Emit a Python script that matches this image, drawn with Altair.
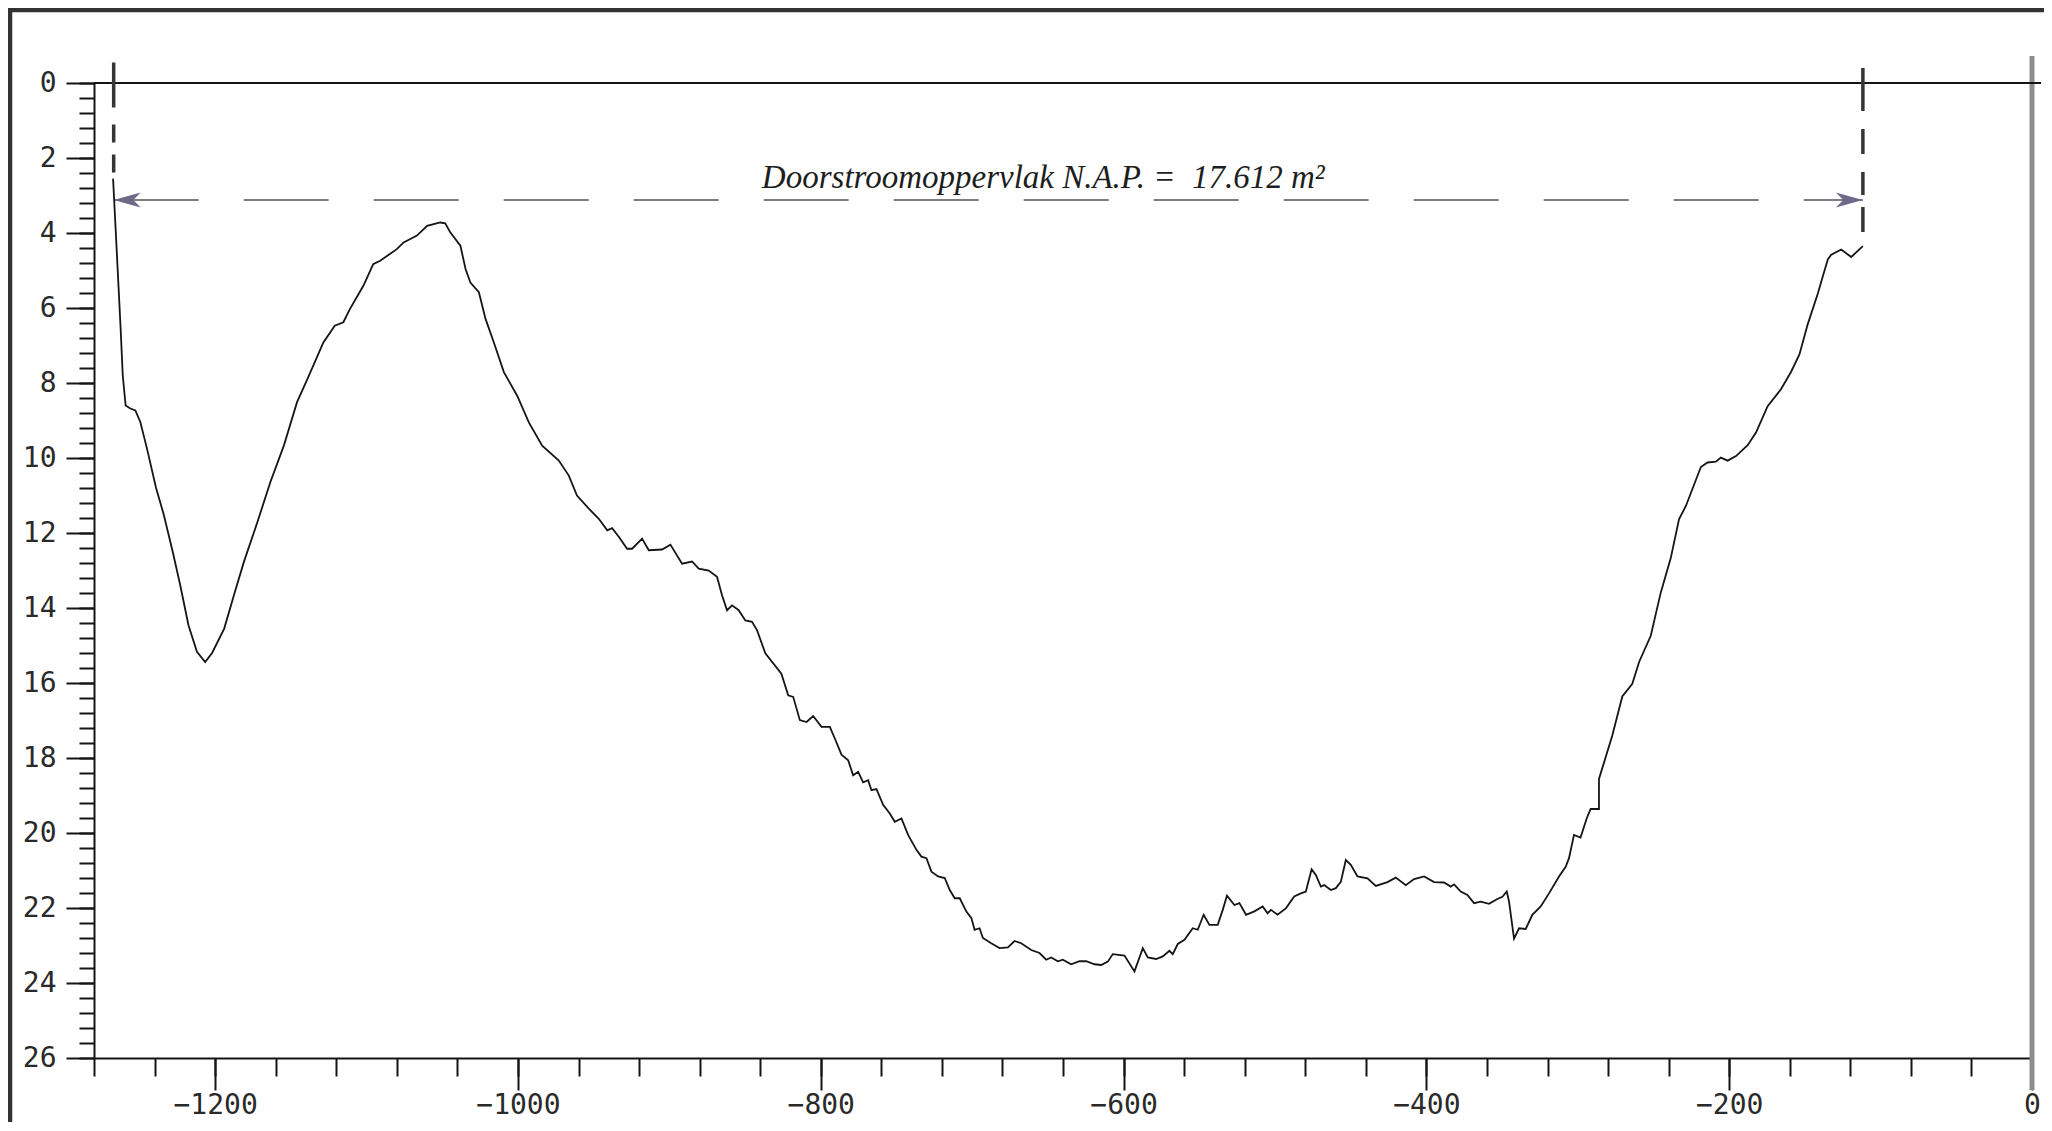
import altair as alt
import pandas as pd

# ---------------- data ----------------
afstand = [
    -1267.4, -1265.7, -1264.6, -1263.5, -1262.4, -1261.0, -1259.1, -1256.0, -1252.7, -1249.4,
    -1245.0, -1239.0, -1234.0, -1228.0, -1223.0, -1217.6, -1212.0, -1206.6, -1202.0, -1194.0,
    -1187.6, -1181.0, -1172.0, -1163.5, -1154.6, -1145.9, -1139.0, -1128.5, -1121.0, -1115.3,
    -1111.0, -1102.0, -1095.6, -1091.0, -1084.6, -1080.0, -1075.5, -1066.7, -1060.0, -1051.3,
    -1048.0, -1044.6, -1038.0, -1034.6, -1031.4, -1025.8, -1021.4, -1015.9, -1009.3, -1000.5,
    -992.8, -984.0, -973.0, -966.4, -961.0, -953.2, -946.6, -941.0, -937.8, -933.4,
    -927.9, -924.6, -918.0, -913.6, -904.8, -899.3, -891.6, -885.0, -880.6, -874.0,
    -868.5, -865.2, -861.9, -858.6, -854.2, -849.8, -845.4, -842.1, -836.6, -826.0,
    -821.5, -818.2, -813.8, -809.4, -805.0, -799.5, -794.0, -790.7, -786.3, -781.9,
    -778.6, -775.3, -772.0, -768.7, -766.5, -763.2, -758.8, -754.4, -751.1, -746.7,
    -742.3, -736.8, -733.5, -730.2, -726.9, -722.5, -718.1, -714.8, -711.5, -708.2,
    -703.9, -700.5, -698.4, -695.1, -692.9, -687.4, -681.9, -676.4, -672.0, -667.6,
    -661.0, -655.5, -651.1, -647.8, -643.4, -640.1, -634.6, -629.1, -624.7, -619.2,
    -614.8, -610.4, -607.1, -599.4, -592.8, -587.3, -584.0, -578.5, -574.1, -569.7,
    -567.5, -564.2, -559.8, -554.3, -551.0, -547.1, -543.3, -537.8, -534.5, -531.7,
    -526.8, -523.5, -519.1, -513.6, -508.1, -504.9, -502.7, -498.3, -492.8, -487.3,
    -482.9, -479.6, -475.8, -473.0, -469.7, -467.5, -463.1, -459.8, -456.5, -453.2,
    -449.9, -445.5, -438.9, -433.4, -425.7, -420.2, -413.6, -408.1, -401.5, -394.9,
    -388.3, -383.9, -381.7, -377.3, -372.9, -368.5, -364.1, -358.6, -353.1, -349.8,
    -346.9, -345.4, -342.1, -338.8, -334.4, -330.0, -324.5, -319.0, -312.4, -308.0,
    -305.8, -302.5, -298.2, -294.0, -291.5, -286.0, -286.0, -283.8, -277.2, -270.6,
    -264.0, -259.5, -251.8, -245.2, -238.6, -233.1, -228.6, -218.7, -214.3, -208.8,
    -205.5, -201.0, -195.5, -187.8, -182.3, -174.6, -165.7, -159.1, -153.6, -148.1,
    -141.5, -138.2, -134.8, -132.6, -126.0, -119.4, -111.7,
]
diepte = [
    2.55, 3.90, 4.79, 5.67, 6.56, 7.80, 8.60, 8.68, 8.73, 9.04,
    9.75, 10.80, 11.50, 12.50, 13.40, 14.46, 15.17, 15.44, 15.20, 14.55,
    13.66, 12.77, 11.70, 10.64, 9.67, 8.51, 7.89, 6.92, 6.47, 6.38,
    6.03, 5.40, 4.83, 4.74, 4.56, 4.43, 4.25, 4.07, 3.81, 3.72,
    3.74, 3.99, 4.34, 4.96, 5.32, 5.58, 6.29, 6.92, 7.71, 8.34,
    9.05, 9.67, 10.07, 10.47, 11.00, 11.35, 11.62, 11.93, 11.87, 12.10,
    12.42, 12.42, 12.15, 12.46, 12.44, 12.31, 12.82, 12.76, 12.95, 13.00,
    13.17, 13.66, 14.06, 13.93, 14.06, 14.33, 14.37, 14.59, 15.21, 15.75,
    16.33, 16.37, 16.99, 17.04, 16.88, 17.17, 17.17, 17.48, 17.91, 18.06,
    18.46, 18.37, 18.65, 18.59, 18.86, 18.83, 19.25, 19.48, 19.70, 19.61,
    20.05, 20.45, 20.63, 20.67, 21.03, 21.16, 21.20, 21.52, 21.74, 21.74,
    22.09, 22.27, 22.58, 22.54, 22.80, 22.94, 23.07, 23.05, 22.88, 22.94,
    23.12, 23.20, 23.38, 23.32, 23.42, 23.38, 23.50, 23.42, 23.42, 23.50,
    23.52, 23.43, 23.23, 23.27, 23.69, 23.07, 23.32, 23.36, 23.29, 23.14,
    23.23, 22.96, 22.85, 22.54, 22.58, 22.18, 22.45, 22.45, 22.05, 21.67,
    21.92, 21.87, 22.18, 22.09, 21.96, 22.14, 22.05, 22.18, 22.01, 21.69,
    21.61, 21.56, 20.97, 21.12, 21.43, 21.39, 21.52, 21.47, 21.30, 20.72,
    20.85, 21.16, 21.21, 21.41, 21.31, 21.19, 21.39, 21.23, 21.16, 21.31,
    21.32, 21.43, 21.37, 21.56, 21.65, 21.87, 21.83, 21.89, 21.76, 21.70,
    21.56, 21.83, 22.82, 22.54, 22.56, 22.18, 21.96, 21.61, 21.16, 20.90,
    20.67, 20.05, 20.12, 19.60, 19.36, 19.36, 18.56, 18.27, 17.40, 16.36,
    16.02, 15.44, 14.74, 13.59, 12.67, 11.63, 11.28, 10.24, 10.12, 10.10,
    9.99, 10.07, 9.95, 9.66, 9.32, 8.62, 8.16, 7.70, 7.24, 6.43,
    5.62, 5.16, 4.70, 4.58, 4.44, 4.64, 4.35,
]

x_tick_values = [-1200, -1000, -800, -600, -400, -200, 0]
y_tick_values = [0, 2, 4, 6, 8, 10, 12, 14, 16, 18, 20, 22, 24, 26]
x_minor_values = list(range(-1280, 1, 40))
y_minor_values = [round(i * 0.4, 1) for i in range(66)]

x_linker, x_rechter = -1267.0, -111.7       # oevergrenzen (dashed verticals)
nap_niveau = 3.12                           # height of the dimension arrow
label_tekst = "Doorstroomoppervlak N.A.P. = \u00a017.612 m²"
label_x, label_y = -653.0, 2.8

profile = pd.DataFrame({"afstand": afstand, "diepte": diepte, "volg": list(range(len(afstand)))})

W, H = 1938, 975
xs = alt.Scale(domain=[-1280, 0], nice=False, zero=False)
ys = alt.Scale(domain=[0, 26], nice=False, zero=False, reverse=True)
FONT = "DejaVu Sans Mono"
INK = "#151515"

x_major = alt.Axis(orient="bottom", values=x_tick_values, format="d", tickSize=32, tickWidth=2,
                   tickColor=INK, domain=True, domainColor=INK, domainWidth=2, labelFont=FONT,
                   labelFontSize=28, labelColor="#2a2a2a", labelPadding=1, labelFlush=False,
                   grid=False, title=None)
y_major = alt.Axis(orient="left", values=y_tick_values, format="d", tickSize=28, tickWidth=2,
                   tickColor=INK, domain=True, domainColor=INK, domainWidth=2, labelFont=FONT,
                   labelFontSize=28, labelColor="#2a2a2a", labelPadding=10, labelFlush=False,
                   grid=False, title=None)
x_minor = alt.Axis(orient="bottom", values=x_minor_values, tickSize=18, tickWidth=2, tickColor=INK,
                   domain=False, labels=False, grid=False, title=None)
y_minor = alt.Axis(orient="left", values=y_minor_values, tickSize=15, tickWidth=2, tickColor=INK,
                   domain=False, labels=False, grid=False, title=None)

# scan frame (decoration, pixel positions)
frame_top = alt.Chart(pd.DataFrame({"k": [0]})).mark_rule(color="#333", strokeWidth=4.5).encode(
    x=alt.value(-90), x2=alt.value(W + 14), y=alt.value(-73))
frame_left = alt.Chart(pd.DataFrame({"k": [0]})).mark_rule(color="#333", strokeWidth=4.5).encode(
    x=alt.value(-84), y=alt.value(-76), y2=alt.value(H + 70))

# grey vertical line at x = 0 (carries the minor tick axes)
rand = alt.Chart(pd.DataFrame({"x": [0], "y": [-0.72], "y2": [26.85]})).mark_rule(
    color="#8c8c8c", strokeWidth=5).encode(
    x=alt.X("x:Q", scale=xs, axis=x_minor),
    y=alt.Y("y:Q", scale=ys, axis=y_minor),
    y2="y2:Q")

# N.A.P. zero line
nul = alt.Chart(pd.DataFrame({"x": [-1280], "x2": [6], "y": [0]})).mark_rule(
    color=INK, strokeWidth=2).encode(
    x=alt.X("x:Q", scale=xs, axis=None), x2="x2:Q", y=alt.Y("y:Q", scale=ys, axis=None))

left_dash = alt.Chart(pd.DataFrame({"x": [x_linker], "y": [-0.55], "y2": [2.6]})).mark_rule(
    color="#353535", strokeWidth=3.5, strokeDash=[45, 17, 18, 12, 18, 8, 40]).encode(
    x=alt.X("x:Q", scale=xs, axis=None), y=alt.Y("y:Q", scale=ys, axis=None), y2="y2:Q")
right_dash = alt.Chart(pd.DataFrame({"x": [x_rechter], "y": [-0.4], "y2": [4.0]})).mark_rule(
    color="#353535", strokeWidth=3.5, strokeDash=[43, 18, 25, 18, 23, 12, 25]).encode(
    x=alt.X("x:Q", scale=xs, axis=None), y=alt.Y("y:Q", scale=ys, axis=None), y2="y2:Q")

maat = alt.Chart(pd.DataFrame({"x": [x_linker], "x2": [x_rechter], "y": [nap_niveau]})).mark_rule(
    color="#7c7c84", strokeWidth=2.2, strokeDash=[85, 45]).encode(
    x=alt.X("x:Q", scale=xs, axis=None), x2="x2:Q", y=alt.Y("y:Q", scale=ys, axis=None))

ARROW_L = "M0,0 L2,-0.55 L1.45,0 L2,0.55 Z"
ARROW_R = "M0,0 L-2,-0.55 L-1.45,0 L-2,0.55 Z"
pijlen = alt.Chart(pd.DataFrame({"x": [x_linker, x_rechter], "y": [nap_niveau, nap_niveau],
                                 "kant": ["links", "rechts"]})).mark_point(
    filled=True, opacity=1, size=729, color="#6f6888", strokeWidth=0).encode(
    x=alt.X("x:Q", scale=xs, axis=None), y=alt.Y("y:Q", scale=ys, axis=None),
    shape=alt.Shape("kant:N", scale=alt.Scale(domain=["links", "rechts"], range=[ARROW_L, ARROW_R]),
                    legend=None))

lijn = alt.Chart(profile).mark_line(color=INK, strokeWidth=1.8, interpolate="linear").encode(
    x=alt.X("afstand:Q", scale=xs, axis=x_major),
    y=alt.Y("diepte:Q", scale=ys, axis=y_major),
    order=alt.Order("volg:Q"))

tekst = alt.Chart(pd.DataFrame({"x": [label_x], "y": [label_y], "t": [label_tekst]})).mark_text(
    font="Liberation Serif", fontStyle="italic", fontSize=33, align="center",
    baseline="alphabetic", color="#1e1e1e").encode(
    x=alt.X("x:Q", scale=xs, axis=None), y=alt.Y("y:Q", scale=ys, axis=None), text="t:N")

chart = alt.layer(frame_top, frame_left, rand, nul, left_dash, right_dash, maat, pijlen, lijn, tekst).properties(
    width=W, height=H,
    padding={"left": 86, "top": 75, "right": 12, "bottom": 64},
    autosize=alt.AutoSizeParams(type="none"),
).resolve_axis(x="independent", y="independent").configure_view(stroke=None)

chart.save("out.html", embed_options={"renderer": "svg", "actions": False})
